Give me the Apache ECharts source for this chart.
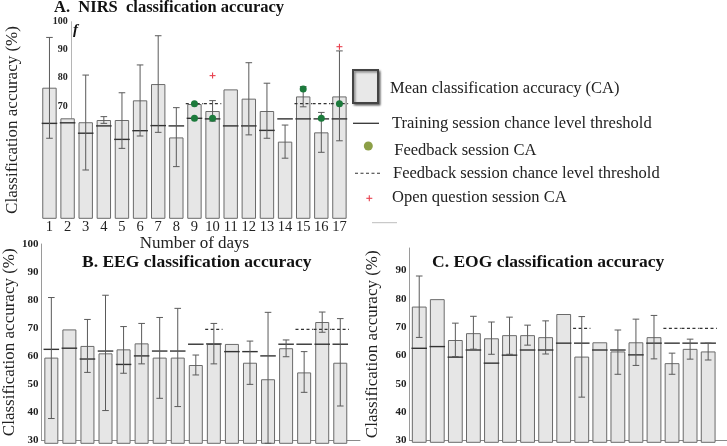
<!DOCTYPE html>
<html><head><meta charset="utf-8">
<script src="https://cdn.jsdelivr.net/npm/echarts@6/dist/echarts.min.js"></script>
<style>html,body{margin:0;padding:0;background:#fff}#c{width:727px;height:446px}</style>
</head><body><div id="c"></div>
<script>
const days = ['1','2','3','4','5','6','7','8','9','10','11','12','13','14','15','16','17'];
const yTicksA = [70, 80, 90, 100];

// A. NIRS
const nirsMean = [76.5,65.6,64.2,65.0,65.0,72.0,77.8,58.8,70.7,68.2,75.9,72.6,68.2,57.3,73.4,60.6,73.4];
const nirsTrain = [63.8,64.0,60.3,62.9,58.1,61.2,63.0,62.9,65.6,65.4,62.9,62.9,61.3,65.4,65.4,65.4,65.4];
const nirsErrLow = [58.5,null,47.2,63.8,54.9,59.3,60.6,48.4,null,64.6,null,59.7,58.5,51.4,69.7,53.5,57.6];
const nirsErrHigh = [94.4,null,81.0,66.2,74.7,84.6,95.0,69.4,null,71.9,null,85.4,78.1,63.2,76.9,67.7,89.6];
const nirsFbDays = [9,9,10,15,16,17];
const nirsFbVals = [70.8,65.6,65.6,76.0,65.6,70.8];
const nirsFbThrDays = [9,10,15,16,17];
const nirsFbThr = [70.8,70.8,70.8,70.8,70.8];
const nirsOpenDays = [10,17];
const nirsOpenVals = [80.8,91.1];

// B. EEG
const eegMean = [60.1,70.0,64.2,61.6,63.0,65.1,60.1,60.1,57.5,64.9,64.9,58.3,52.5,63.4,54.9,72.6,58.3];
const eegTrain = [63.0,63.4,59.6,62.4,57.7,60.7,62.4,62.4,64.8,64.9,62.2,62.2,60.7,64.8,64.8,64.8,64.8];
const eegErrLow = [38.7,null,54.9,41.5,54.6,57.9,45.8,42.9,54.0,57.9,null,50.7,30.0,60.4,47.9,69.0,43.1];
const eegErrHigh = [81.2,null,73.5,82.0,71.0,72.1,74.2,77.4,61.0,72.1,null,65.9,76.0,66.3,62.2,76.1,73.8];
const eegFbThrDays = [10,15,16,17];
const eegFbThr = [70.0,70.0,70.0,70.0];

// C. EOG
const eogMean = [77.5,80.1,65.8,68.2,66.4,67.5,67.5,66.8,74.9,60.0,65.0,61.8,65.0,66.8,57.7,62.7,61.8];
const eogTrain = [62.9,63.5,59.8,62.3,57.7,60.5,62.3,62.3,64.7,64.7,62.3,62.3,60.6,64.7,64.7,64.7,64.7];
const eogErrLow = [66.7,null,60.0,62.6,60.8,60.8,64.0,60.9,null,45.8,null,53.8,56.9,59.2,53.8,59.1,58.8];
const eogErrHigh = [88.2,null,71.7,74.1,72.1,73.8,71.0,72.5,null,74.0,null,69.3,73.1,74.4,61.2,66.1,64.7];
const eogFbThrDays = [10,15,16,17];
const eogFbThr = [69.9,69.9,69.9,69.9];

const SERIF = 'Liberation Serif';
const TXT = '#222';

function segRender(color, dash, frac, lw) {
  return function (params, api) {
    const p = api.coord([api.value(0), api.value(1)]);
    const hw = api.size([1, 0])[0] * frac / 2;
    return { type: 'line', shape: { x1: p[0] - hw, y1: p[1], x2: p[0] + hw, y2: p[1] },
      style: { stroke: color, lineWidth: lw, lineDash: dash } };
  };
}
function errRender(params, api) {
  const x = api.value(0);
  const lo = api.coord([x, api.value(1)]);
  const hi = api.coord([x, api.value(2)]);
  const c = 3.3;
  const st = { stroke: '#5a5a5a', lineWidth: 1 };
  return { type: 'group', children: [
    { type: 'line', shape: { x1: lo[0], y1: lo[1], x2: hi[0], y2: hi[1] }, style: st },
    { type: 'line', shape: { x1: hi[0] - c, y1: hi[1], x2: hi[0] + c, y2: hi[1] }, style: st },
    { type: 'line', shape: { x1: lo[0] - c, y1: lo[1], x2: lo[0] + c, y2: lo[1] }, style: st }
  ] };
}
function plusRender(params, api) {
  const p = api.coord([api.value(0), api.value(1)]);
  const s = 3;
  const st = { stroke: '#e8404e', lineWidth: 1.1 };
  return { type: 'group', children: [
    { type: 'line', shape: { x1: p[0] - s, y1: p[1], x2: p[0] + s, y2: p[1] }, style: st },
    { type: 'line', shape: { x1: p[0], y1: p[1] - s, x2: p[0], y2: p[1] + s }, style: st }
  ] };
}
const idx = d => d - 1;
const pairs = (arr) => arr.map((v, i) => [i, v]);
const errPairs = (lo, hi) => lo.map((v, i) => v == null ? null : [i, v, hi[i]]).filter(x => x);
const dayPairs = (ds, vs) => ds.map((d, i) => [idx(d), vs[i]]);

function panelSeries(ax, mean, train, lo, hi, thrDays, thr, barW) {
  const s = [
    { type: 'bar', xAxisIndex: ax, yAxisIndex: ax, data: mean, barWidth: barW,
      itemStyle: { color: '#e6e6e6', borderColor: '#6a6a6a', borderWidth: 1 }, z: 2 },
    { type: 'custom', xAxisIndex: ax, yAxisIndex: ax, data: pairs(train),
      renderItem: segRender('#333', null, 0.86, 1.4), z: 3 },
    { type: 'custom', xAxisIndex: ax, yAxisIndex: ax, data: errPairs(lo, hi),
      renderItem: errRender, z: 4 },
    { type: 'custom', xAxisIndex: ax, yAxisIndex: ax, data: dayPairs(thrDays, thr),
      renderItem: segRender('#333', [3, 2.5], 0.96, 1.2), z: 3 }
  ];
  return s;
}

const series = [].concat(
  panelSeries(0, nirsMean, nirsTrain, nirsErrLow, nirsErrHigh, nirsFbThrDays, nirsFbThr, 14.4),
  [
    { type: 'scatter', xAxisIndex: 0, yAxisIndex: 0, data: dayPairs(nirsFbDays, nirsFbVals),
      symbolSize: 7, itemStyle: { color: '#1c7a3c', opacity: 1 }, z: 5 },
    { type: 'custom', xAxisIndex: 0, yAxisIndex: 0, data: dayPairs(nirsOpenDays, nirsOpenVals),
      renderItem: plusRender, z: 5 }
  ],
  panelSeries(2, eegMean, eegTrain, eegErrLow, eegErrHigh, eegFbThrDays, eegFbThr, 14),
  panelSeries(4, eogMean, eogTrain, eogErrLow, eogErrHigh, eogFbThrDays, eogFbThr, 14.8)
);

const hid = { show: false };
const frameYLabel = { fontFamily: SERIF, fontWeight: 'bold', fontSize: 11, color: TXT, margin: 3 };
const yName = { fontFamily: SERIF, fontSize: 17, color: TXT };

const option = {
  animation: false,
  backgroundColor: '#fff',
  title: [
    { text: 'A.  NIRS  classification accuracy', left: 54, top: -1, padding: 0,
      textStyle: { fontFamily: SERIF, fontWeight: 'bold', fontSize: 16.5, color: '#111' } },
    { text: 'B. EEG classification accuracy', left: 82, top: 253, padding: 0,
      textStyle: { fontFamily: SERIF, fontWeight: 'bold', fontSize: 17.5, color: '#111' } },
    { text: 'C. EOG classification accuracy', left: 432, top: 253, padding: 0,
      textStyle: { fontFamily: SERIF, fontWeight: 'bold', fontSize: 17.5, color: '#111' } }
  ],
  grid: [
    { left: 40.4, top: 21.7, width: 308.1, height: 196.6 },
    { left: 71.7, top: 21.7, width: 10, height: 196.6 },
    { left: 42.3, top: 244, width: 307, height: 199.3 },
    { left: 34.3, top: 244, width: 325.7, height: 199.3 },
    { left: 410.2, top: 248, width: 307, height: 194.3 },
    { left: 409.5, top: 248, width: 317.5, height: 194.3 }
  ],
  xAxis: [
    { gridIndex: 0, type: 'category', data: days, axisLine: hid, axisTick: hid,
      axisLabel: { fontFamily: SERIF, fontSize: 14.5, color: TXT, margin: 1, interval: 0 },
      name: 'Number of days', nameLocation: 'middle', nameGap: 13,
      nameTextStyle: { fontFamily: SERIF, fontSize: 17, color: TXT } },
    { gridIndex: 1, type: 'value', show: false, min: 0, max: 1 },
    { gridIndex: 2, type: 'category', data: days, show: false },
    { gridIndex: 3, type: 'value', min: 0, max: 1, axisLine: { lineStyle: { color: '#8a8a8a', width: 1 } },
      axisTick: hid, axisLabel: hid, splitLine: hid },
    { gridIndex: 4, type: 'category', data: days, show: false },
    { gridIndex: 5, type: 'value', min: 0, max: 1, axisLine: { lineStyle: { color: '#8a8a8a', width: 1 } },
      axisTick: hid, axisLabel: hid, splitLine: hid }
  ],
  yAxis: [
    { gridIndex: 0, type: 'value', min: 30, max: 100, show: false },
    { gridIndex: 1, type: 'value', min: 30, max: 100, interval: 10,
      axisLine: { show: true, lineStyle: { color: '#b5b5b5', width: 1 } }, axisTick: hid, splitLine: hid,
      axisLabel: { fontFamily: SERIF, fontWeight: 'bold', fontSize: 10, color: TXT, margin: 4,
        formatter: v => yTicksA.indexOf(v) >= 0 ? String(v) : '' },
      name: 'Classification accuracy (%)', nameLocation: 'middle', nameGap: 51, nameTextStyle: yName },
    { gridIndex: 2, type: 'value', min: 30, max: 100, show: false },
    { gridIndex: 3, type: 'value', min: 30, max: 100, interval: 10,
      axisLine: { show: true, lineStyle: { color: '#9a9a9a', width: 1 } }, axisTick: hid, splitLine: hid,
      axisLabel: frameYLabel,
      name: 'Classification accuracy (%)', nameLocation: 'middle', nameGap: 18, nameTextStyle: yName },
    { gridIndex: 4, type: 'value', min: 30, max: 98, show: false },
    { gridIndex: 5, type: 'value', min: 30, max: 98, interval: 10,
      axisLine: { show: true, lineStyle: { color: '#9a9a9a', width: 1 } }, axisTick: hid, splitLine: hid,
      axisLabel: Object.assign({}, frameYLabel, { formatter: v => v > 90 ? '' : String(v) }),
      name: 'Classification accuracy (%)', nameLocation: 'middle', nameGap: 28, nameTextStyle: yName }
  ],
  graphic: [
    { type: 'text', x: 73, y: 23, style: { text: 'f', font: 'italic bold 15px "Liberation Serif"', fill: '#111' } },
    { type: 'rect', shape: { x: 353, y: 70, width: 25, height: 33 },
      style: { fill: '#e8e8e8', stroke: '#444', lineWidth: 2, shadowBlur: 2, shadowOffsetX: 1.5, shadowOffsetY: 1.5, shadowColor: 'rgba(0,0,0,0.45)' } },
    { type: 'text', x: 390, y: 88.7, style: { text: 'Mean classification accuracy (CA)', font: '16.5px "Liberation Serif"', fill: TXT, verticalAlign: 'middle' } },
    { type: 'line', shape: { x1: 353, y1: 123.3, x2: 379, y2: 123.3 }, style: { stroke: '#333', lineWidth: 1.3 } },
    { type: 'text', x: 392, y: 123.3, style: { text: 'Training session chance level threshold', font: '16.5px "Liberation Serif"', fill: TXT, verticalAlign: 'middle' } },
    { type: 'circle', shape: { cx: 368.3, cy: 146, r: 4.5 }, style: { fill: '#8c9f47' } },
    { type: 'text', x: 394.3, y: 151, style: { text: 'Feedback session CA', font: '16.5px "Liberation Serif"', fill: TXT, verticalAlign: 'middle' } },
    { type: 'line', shape: { x1: 355, y1: 173.3, x2: 382, y2: 173.3 }, style: { stroke: '#333', lineWidth: 1.1, lineDash: [3, 2.5] } },
    { type: 'text', x: 393, y: 173.3, style: { text: 'Feedback session chance level threshold', font: '16.5px "Liberation Serif"', fill: TXT, verticalAlign: 'middle' } },
    { type: 'line', shape: { x1: 366.3, y1: 198.3, x2: 372.3, y2: 198.3 }, style: { stroke: '#e8404e', lineWidth: 1.1 } },
    { type: 'line', shape: { x1: 369.3, y1: 195.3, x2: 369.3, y2: 201.3 }, style: { stroke: '#e8404e', lineWidth: 1.1 } },
    { type: 'text', x: 392, y: 197.7, style: { text: 'Open question session CA', font: '16.5px "Liberation Serif"', fill: TXT, verticalAlign: 'middle' } },
    { type: 'line', shape: { x1: 372, y1: 222.7, x2: 397, y2: 222.7 }, style: { stroke: '#bdbdbd', lineWidth: 1 } }
  ],
  series: series
};
const chart = echarts.init(document.getElementById('c'), null, { renderer: 'canvas' });
chart.setOption(option);
</script></body></html>
